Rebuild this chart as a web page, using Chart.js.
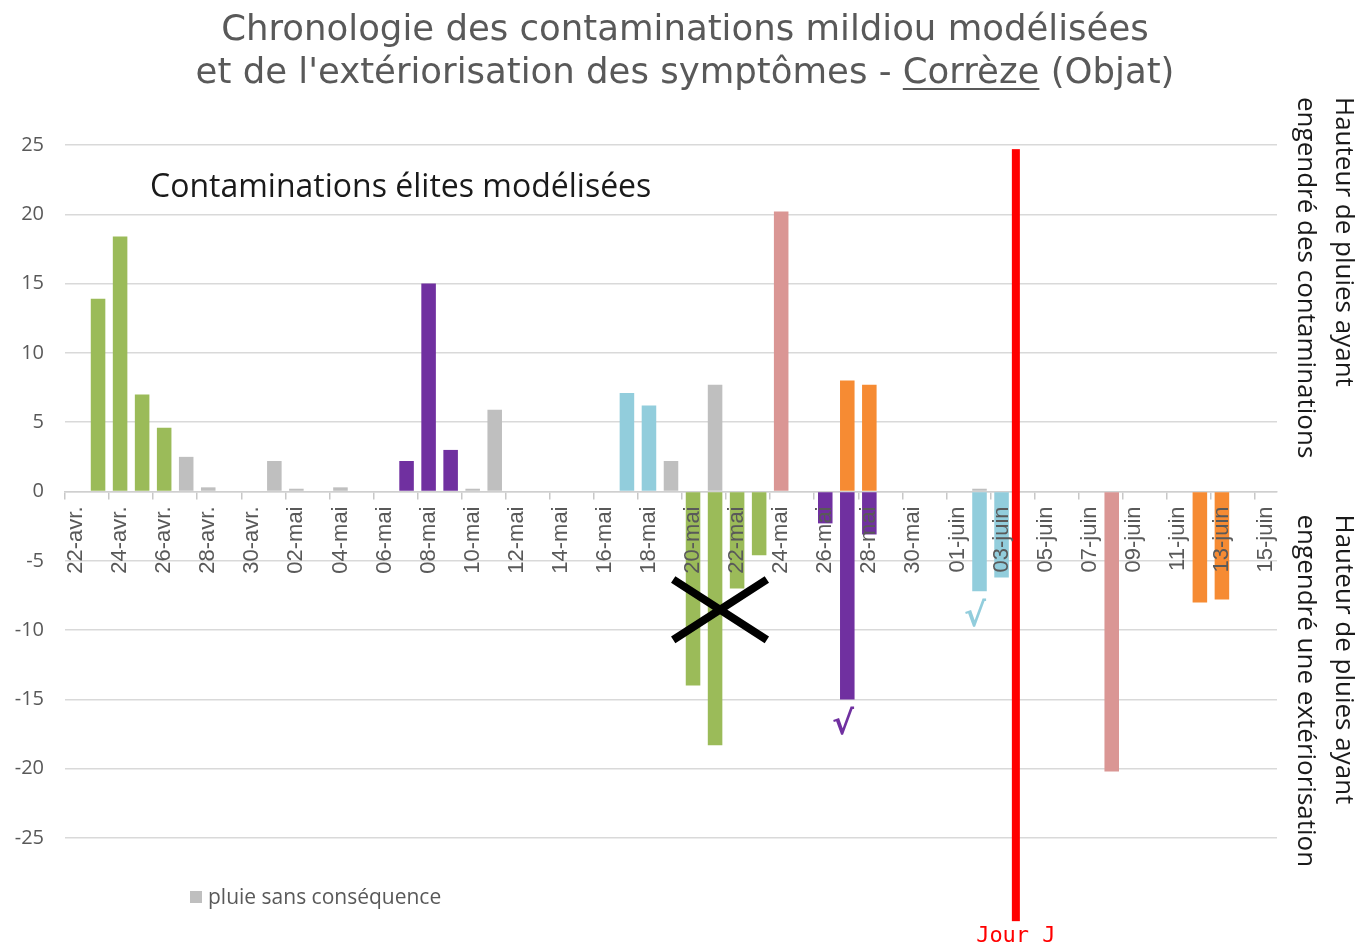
<!DOCTYPE html>
<html lang="fr">
<head>
<meta charset="utf-8">
<title>Chronologie des contaminations mildiou - Corrèze (Objat)</title>
<script src="https://cdn.jsdelivr.net/npm/chart.js@4.4.1/dist/chart.umd.min.js"></script>
<style>
  html, body { margin: 0; padding: 0; background: #fff; }
  #wrap { position: relative; width: 1370px; height: 946px; }
  #chart { position: absolute; left: 0; top: 0; }
  #title {
    position: absolute; top: 6px; left: 0; width: 1370px;
    text-align: center; color: #595959;
    font-family: "DejaVu Sans", Verdana, sans-serif; font-size: 35.5px; line-height: 43px;
  }
  #title u { text-decoration-thickness: 2px; text-underline-offset: 5px; }
</style>
</head>
<body>
<div id="wrap">
  <canvas id="chart" width="1370" height="946"></canvas>
  <div id="title">Chronologie des contaminations mildiou modélisées<br>et de l'extériorisation des symptômes - <u>Corrèze</u> (Objat)</div>
</div>
<script>
// One category per day, labels shown every second day
const dayLabels = [
    '22-avr.', '23-avr.', '24-avr.', '25-avr.', '26-avr.', '27-avr.', '28-avr.', '29-avr.', '30-avr.',
    '01-mai', '02-mai', '03-mai', '04-mai', '05-mai', '06-mai', '07-mai', '08-mai', '09-mai', '10-mai',
    '11-mai', '12-mai', '13-mai', '14-mai', '15-mai', '16-mai', '17-mai', '18-mai', '19-mai', '20-mai',
    '21-mai', '22-mai', '23-mai', '24-mai', '25-mai', '26-mai', '27-mai', '28-mai', '29-mai', '30-mai',
    '31-mai', '01-juin', '02-juin', '03-juin', '04-juin', '05-juin', '06-juin', '07-juin', '08-juin',
    '09-juin', '10-juin', '11-juin', '12-juin', '13-juin', '14-juin', '15-juin'
];

// Rain heights (positive = contamination, negative = symptom expression)
const rainDays = ['27-avr.', '28-avr.', '01-mai', '02-mai', '04-mai', '10-mai', '11-mai', '19-mai', '21-mai', '02-juin'];
const rainValues = [2.5, 0.3, 2.2, 0.2, 0.3, 0.2, 5.9, 2.2, 7.7, 0.2];

const greenDays = ['23-avr.', '24-avr.', '25-avr.', '26-avr.', '20-mai', '21-mai', '22-mai', '23-mai'];
const greenValues = [13.9, 18.4, 7.0, 4.6, -14.0, -18.3, -7.0, -4.6];

const purpleDays = ['07-mai', '08-mai', '09-mai', '26-mai', '27-mai', '28-mai'];
const purpleValues = [2.2, 15.0, 3.0, -2.3, -15.0, -3.1];

const blueDays = ['17-mai', '18-mai', '02-juin', '03-juin'];
const blueValues = [7.1, 6.2, -7.2, -6.2];

const pinkDays = ['24-mai', '08-juin'];
const pinkValues = [20.2, -20.2];

const orangeDays = ['27-mai', '28-mai', '12-juin', '13-juin'];
const orangeValues = [8.0, 7.7, -8.0, -7.8];

// Annotations, in axis units (day index / mm)
const jourJ = { label: 'Jour J', at: 42.65, top: 24.7, bottom: -31 };
const crossMark = { x1: 27.1, x2: 31.35, y1: -6.35, y2: -10.7 };
const checkMarks = [
    { x: 34.8, y: -16.9, color: '#7030A0' },
    { x: 40.8, y: -9.1, color: '#92CDDC' }
];

function points(days, values) {
    return days.map((d, i) => ({ x: d, y: values[i] }));
}

function barSet(label, days, values, color) {
    return {
        label: label,
        data: points(days, values),
        backgroundColor: color,
        borderWidth: 0,
        barPercentage: 0.66,
        categoryPercentage: 1.0
    };
}

const annotationsPlugin = {
    id: 'annotations',
    afterDatasetsDraw(chart) {
        const ctx = chart.ctx;
        const xs = chart.scales.x;
        const ys = chart.scales.y;

        // black cross over the first expression
        ctx.save();
        ctx.strokeStyle = '#000';
        ctx.lineWidth = 8;
        ctx.beginPath();
        ctx.moveTo(xs.getPixelForValue(crossMark.x1), ys.getPixelForValue(crossMark.y1));
        ctx.lineTo(xs.getPixelForValue(crossMark.x2), ys.getPixelForValue(crossMark.y2));
        ctx.moveTo(xs.getPixelForValue(crossMark.x1), ys.getPixelForValue(crossMark.y2));
        ctx.lineTo(xs.getPixelForValue(crossMark.x2), ys.getPixelForValue(crossMark.y1));
        ctx.stroke();

        // check marks
        ctx.font = 'italic bold 33px "DejaVu Sans"';
        ctx.textAlign = 'center';
        ctx.textBaseline = 'middle';
        checkMarks.forEach(m => {
            ctx.fillStyle = m.color;
            ctx.fillText('√', xs.getPixelForValue(m.x), ys.getPixelForValue(m.y));
        });

        // "Jour J" line
        const jx = xs.getPixelForValue(jourJ.at);
        const jTop = ys.getPixelForValue(jourJ.top);
        const jBottom = ys.getPixelForValue(jourJ.bottom);
        ctx.fillStyle = '#FF0000';
        ctx.fillRect(jx - 4, jTop, 8, jBottom - jTop);
        ctx.font = '22px "DejaVu Sans Mono"';
        ctx.textBaseline = 'alphabetic';
        ctx.fillText(jourJ.label, jx, jBottom + 21);
        ctx.restore();
    },
    afterDraw(chart) {
        const ctx = chart.ctx;
        const area = chart.chartArea;
        const zeroY = chart.scales.y.getPixelForValue(0);

        ctx.save();
        ctx.fillStyle = '#1a1a1a';
        ctx.font = '32px "Open Sans"';
        ctx.textAlign = 'left';
        ctx.textBaseline = 'alphabetic';
        ctx.fillText('Contaminations élites modélisées', area.left + 85, area.top + 52);

        // right-hand rotated captions
        ctx.font = '26px "Open Sans"';
        ctx.textBaseline = 'middle';
        const blocks = [
            { y: area.top - 48, lines: ['Hauteur de pluies ayant', 'engendré des contaminations'] },
            { y: zeroY + 23, lines: ['Hauteur de pluies ayant', 'engendré une extériorisation'] }
        ];
        blocks.forEach(b => {
            ctx.save();
            ctx.translate(area.right + 66, b.y);
            ctx.rotate(Math.PI / 2);
            b.lines.forEach((t, i) => ctx.fillText(t, 0, i * 38));
            ctx.restore();
        });

        // legend for the grey series only
        const ds = chart.data.datasets[0];
        ctx.fillStyle = ds.backgroundColor;
        ctx.fillRect(190, 891, 12, 12);
        ctx.fillStyle = '#595959';
        ctx.font = '21px "Open Sans"';
        ctx.textBaseline = 'alphabetic';
        ctx.fillText(ds.label, 208, 904);
        ctx.restore();
    }
};

new Chart(document.getElementById('chart').getContext('2d'), {
    type: 'bar',
    data: {
        labels: dayLabels,
        datasets: [
            barSet('pluie sans conséquence', rainDays, rainValues, '#BFBFBF'),
            barSet('23-26 avr.', greenDays, greenValues, '#9BBB59'),
            barSet('07-09 mai', purpleDays, purpleValues, '#7030A0'),
            barSet('17-18 mai', blueDays, blueValues, '#92CDDC'),
            barSet('24 mai', pinkDays, pinkValues, '#DA9694'),
            barSet('27-28 mai', orangeDays, orangeValues, '#F68B33')
        ]
    },
    options: {
        responsive: false,
        animation: false,
        layout: { padding: { top: 145, right: 93, bottom: 108, left: 0 } },
        plugins: {
            legend: { display: false },
            title: { display: false },
            tooltip: { enabled: false }
        },
        scales: {
            x: {
                stacked: true,
                offset: true,
                position: { y: 0 },
                grid: {
                    offset: true,
                    drawOnChartArea: false,
                    tickLength: 7,
                    lineWidth: 1.5,
                    color: ctx => (ctx.index % 2 === 0 ? '#c8c8c8' : 'rgba(0,0,0,0)')
                },
                border: { display: true, color: '#cfcfcf', width: 1.5 },
                ticks: {
                    z: 1,
                    autoSkip: false,
                    minRotation: 90,
                    maxRotation: 90,
                    padding: 8,
                    color: '#595959',
                    font: { family: 'Liberation Sans', size: 22 },
                    callback: function (value, index) {
                        return index % 2 === 0 ? this.getLabelForValue(value) : '';
                    }
                }
            },
            y: {
                stacked: true,
                min: -25,
                max: 25,
                afterFit: scale => { scale.width = 65; },
                grid: { color: '#d9d9d9', lineWidth: 1.5, drawTicks: false },
                border: { display: false },
                ticks: {
                    stepSize: 5,
                    padding: 21,
                    color: '#595959',
                    font: { family: 'Open Sans', size: 20 }
                }
            }
        }
    },
    plugins: [annotationsPlugin]
});
</script>
</body>
</html>
